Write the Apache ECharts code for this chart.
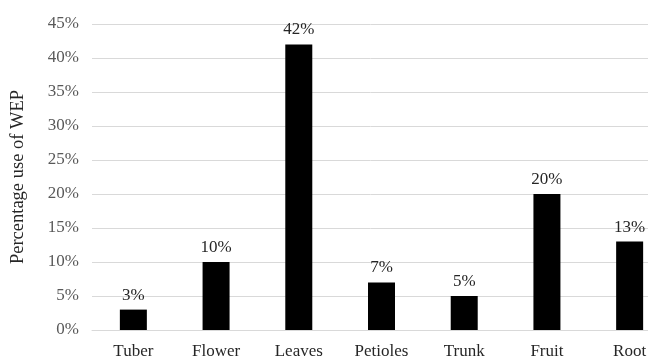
<!DOCTYPE html>
<html>
<head>
<meta charset="utf-8">
<script src="https://cdn.jsdelivr.net/npm/echarts@6/dist/echarts.min.js"></script>
<style>
  html, body { margin: 0; padding: 0; background: #fff; }
  #chart { width: 648px; height: 358px; }
</style>
</head>
<body>
<div id="chart"></div>
<script>
// Plant parts and their share of use
const categories = ['Tuber', 'Flower', 'Leaves', 'Petioles', 'Trunk', 'Fruit', 'Root'];
const usePercent = [3, 10, 42, 7, 5, 20, 13];
const yTicks = [0, 5, 10, 15, 20, 25, 30, 35, 40, 45];

const serif = '"Liberation Serif", "DejaVu Serif", serif';

const chart = echarts.init(document.getElementById('chart'), null, { renderer: 'canvas' });
chart.setOption({
  animation: false,
  backgroundColor: '#ffffff',
  grid: {
    left: 92, top: 24, width: 579, height: 306,
    containLabel: false,
    outerBoundsMode: 'none'
  },
  xAxis: {
    type: 'category',
    data: categories,
    axisLine: { show: true, lineStyle: { color: '#d9d9d9', width: 1 } },
    axisTick: { show: false },
    axisLabel: { color: '#262626', fontFamily: serif, fontSize: 17, margin: 13 }
  },
  yAxis: {
    type: 'value',
    min: yTicks[0],
    max: yTicks[yTicks.length - 1],
    interval: 5,
    name: 'Percentage use of WEP',
    nameLocation: 'middle',
    nameGap: 64,
    nameTextStyle: { color: '#262626', fontFamily: serif, fontSize: 18.5 },
    axisLine: { show: false },
    axisTick: { show: false },
    axisLabel: { color: '#595959', fontFamily: serif, fontSize: 17, margin: 13, formatter: '{value}%' },
    splitLine: { show: true, lineStyle: { color: '#d9d9d9', width: 1 } }
  },
  series: [{
    type: 'bar',
    data: usePercent,
    barWidth: 27,
    itemStyle: { color: '#000000' },
    label: {
      show: true,
      position: 'top',
      distance: 6,
      formatter: '{c}%',
      color: '#262626',
      fontFamily: serif,
      fontSize: 17
    }
  }]
});
</script>
</body>
</html>
